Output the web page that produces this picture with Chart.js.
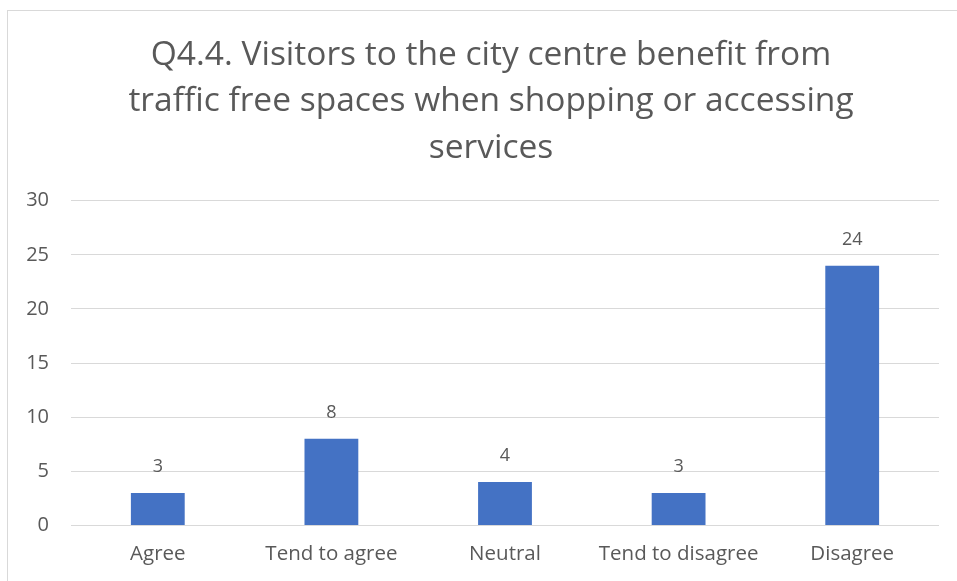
<!DOCTYPE html>
<html>
<head>
<meta charset="utf-8">
<script src="https://cdn.jsdelivr.net/npm/chart.js@4"></script>
<style>
  html, body { margin: 0; padding: 0; background: #fff; overflow: hidden; }
  #box {
    position: absolute; left: 7px; top: 10px;
    width: 966px; height: 580px;
    border: 1px solid #d9d9d9; border-right: none; border-bottom: none;
  }
  #box canvas { display: block; }
</style>
</head>
<body>
<div id="box"><canvas id="myChart" width="966" height="580"></canvas></div>
<script>
const labels = ['Agree', 'Tend to agree', 'Neutral', 'Tend to disagree', 'Disagree'];
const values = [3, 8, 4, 3, 24];
const yTicks = [0, 5, 10, 15, 20, 25, 30];
const titleLines = [
  'Q4.4. Visitors to the city centre benefit from',
  'traffic free spaces when shopping or accessing',
  'services'
];

const textColor = '#595959';
const fontFamily = '"Open Sans", sans-serif';

// value labels on top of the bars
const barValues = {
  id: 'barValues',
  afterDatasetsDraw(chart) {
    const c = chart.ctx;
    c.save();
    c.font = '18px ' + fontFamily;
    c.fillStyle = textColor;
    c.textAlign = 'center';
    c.textBaseline = 'bottom';
    chart.getDatasetMeta(0).data.forEach((bar, i) => {
      c.fillText(values[i], bar.x, bar.y - 17);
    });
    c.restore();
  }
};

const ctx = document.getElementById('myChart');
let chart = new Chart(ctx, {
  type: 'bar',
  data: {
    labels: labels,
    datasets: [{
      data: values,
      backgroundColor: '#4472C4',
      borderWidth: 0,
      barPercentage: 0.62,
      categoryPercentage: 0.5
    }]
  },
  options: {
    responsive: false,
    animation: false,
    layout: { padding: { left: 0, right: 0, top: 0, bottom: 17 } },
    plugins: {
      legend: false,
      tooltip: { enabled: false },
      title: {
        display: true,
        text: titleLines,
        color: textColor,
        font: { family: fontFamily, size: 33.5, weight: 'normal', lineHeight: 1.39 },
        padding: { top: 21, bottom: 29 }
      }
    },
    scales: {
      x: {
        grid: { display: false },
        border: { display: false },
        ticks: { color: textColor, font: { family: fontFamily, size: 20.5 }, padding: 8 }
      },
      y: {
        min: yTicks[0],
        max: yTicks[yTicks.length - 1],
        afterFit(scale) { scale.width = 63; },
        ticks: { stepSize: 5, color: textColor, font: { family: fontFamily, size: 20 }, padding: 22 },
        grid: { color: '#d9d9d9', drawTicks: false },
        border: { display: false }
      },
      // empty strip on the right so the plot ends short of the frame
      gap: {
        position: 'right',
        afterFit(scale) { scale.width = 35; },
        ticks: { display: false },
        grid: { display: false },
        border: { display: false }
      }
    }
  },
  plugins: [barValues]
});
</script>
</body>
</html>
